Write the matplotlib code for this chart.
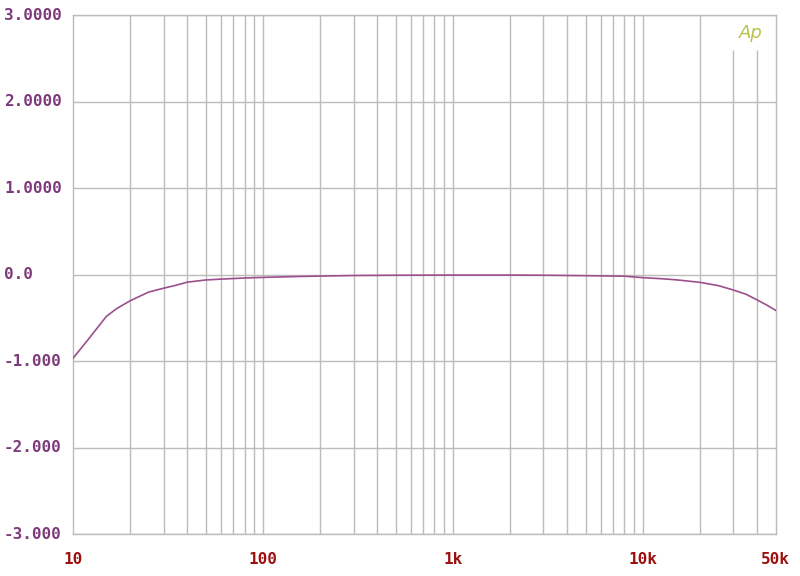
import matplotlib
matplotlib.use("Agg")
import matplotlib.pyplot as plt
import matplotlib.transforms as mtransforms
import numpy as np

# Data (frequency in Hz, level in dB)
freqs = [10, 12, 15, 17, 20, 25, 30, 35, 40, 50, 60, 80, 100, 150, 200, 300,
         500, 1000, 2000, 3000, 5000, 8000, 10000, 12500, 15000, 20000, 25000,
         30000, 35000, 40000, 45000, 50000]
levels = [-0.965, -0.75, -0.48, -0.39, -0.30, -0.20, -0.155, -0.12, -0.085,
          -0.06, -0.05, -0.037, -0.03, -0.02, -0.015, -0.008, -0.005, -0.003,
          -0.003, -0.005, -0.01, -0.016, -0.033, -0.045, -0.058, -0.087,
          -0.125, -0.176, -0.225, -0.29, -0.35, -0.41]

y_ticks = [3, 2, 1, 0, -1, -2, -3]
y_ticklabels = ["3.0000", "2.0000", "1.0000", "0.0", "-1.000", "-2.000", "-3.000"]
x_ticks = [10, 100, 1000, 10000, 50000]
x_ticklabels = ["10", "100", "1k", "10k", "50k"]

grid_col = "#bcbcbc"
ylab_col = "#7d3a7a"
xlab_col = "#9c1010"
line_col = "#9b4f8c"

fig = plt.figure(figsize=(8, 5.76), dpi=100)
ax = fig.add_axes([73 / 800, 1 - 534.3 / 576, (775.5 - 73) / 800, (534.3 - 15.3) / 576])
ax.set_xscale("log")
ax.set_xlim(10, 50000)
ax.set_ylim(-3, 3)

# grid lines
grid_freqs = []
for dec in [10, 100, 1000, 10000]:
    for m in range(1, 10):
        f = dec * m
        if 10 < f < 50000:
            grid_freqs.append(f)
for f in grid_freqs:
    top = 2.6 if f in (30000, 40000) else 3
    ax.vlines(f, -3, top, color=grid_col, lw=1.0, zorder=1)
for yv in y_ticks:
    ax.axhline(yv, color=grid_col, lw=1.0, zorder=1)

for s in ax.spines.values():
    s.set_color(grid_col)
    s.set_linewidth(1.0)

ax.plot(freqs, levels, color=line_col, lw=1.2, zorder=3)

ax.set_yticks(y_ticks)
ax.set_yticklabels([])
ax.set_xticks(x_ticks)
ax.set_xticks([], minor=True)
ax.set_xticklabels(x_ticklabels, fontfamily="DejaVu Sans Mono", fontweight="bold",
                   fontsize=11.5, color=xlab_col)
ax.tick_params(axis="both", length=0)
ax.tick_params(axis="x", pad=13)

trans = mtransforms.blended_transform_factory(fig.transFigure, ax.transData)
for yv, lab in zip(y_ticks, y_ticklabels):
    ax.text(4 / 800, yv, lab, transform=trans, ha="left", va="center",
            fontfamily="DejaVu Sans Mono", fontweight="bold", fontsize=11.5,
            color=ylab_col, clip_on=False)

ax.text(751 / 800, 1 - 33 / 576, "Ap", transform=fig.transFigure, ha="center",
        va="center", fontsize=13, style="italic", color="#b8c24a")

fig.savefig("out.png", dpi=100)
